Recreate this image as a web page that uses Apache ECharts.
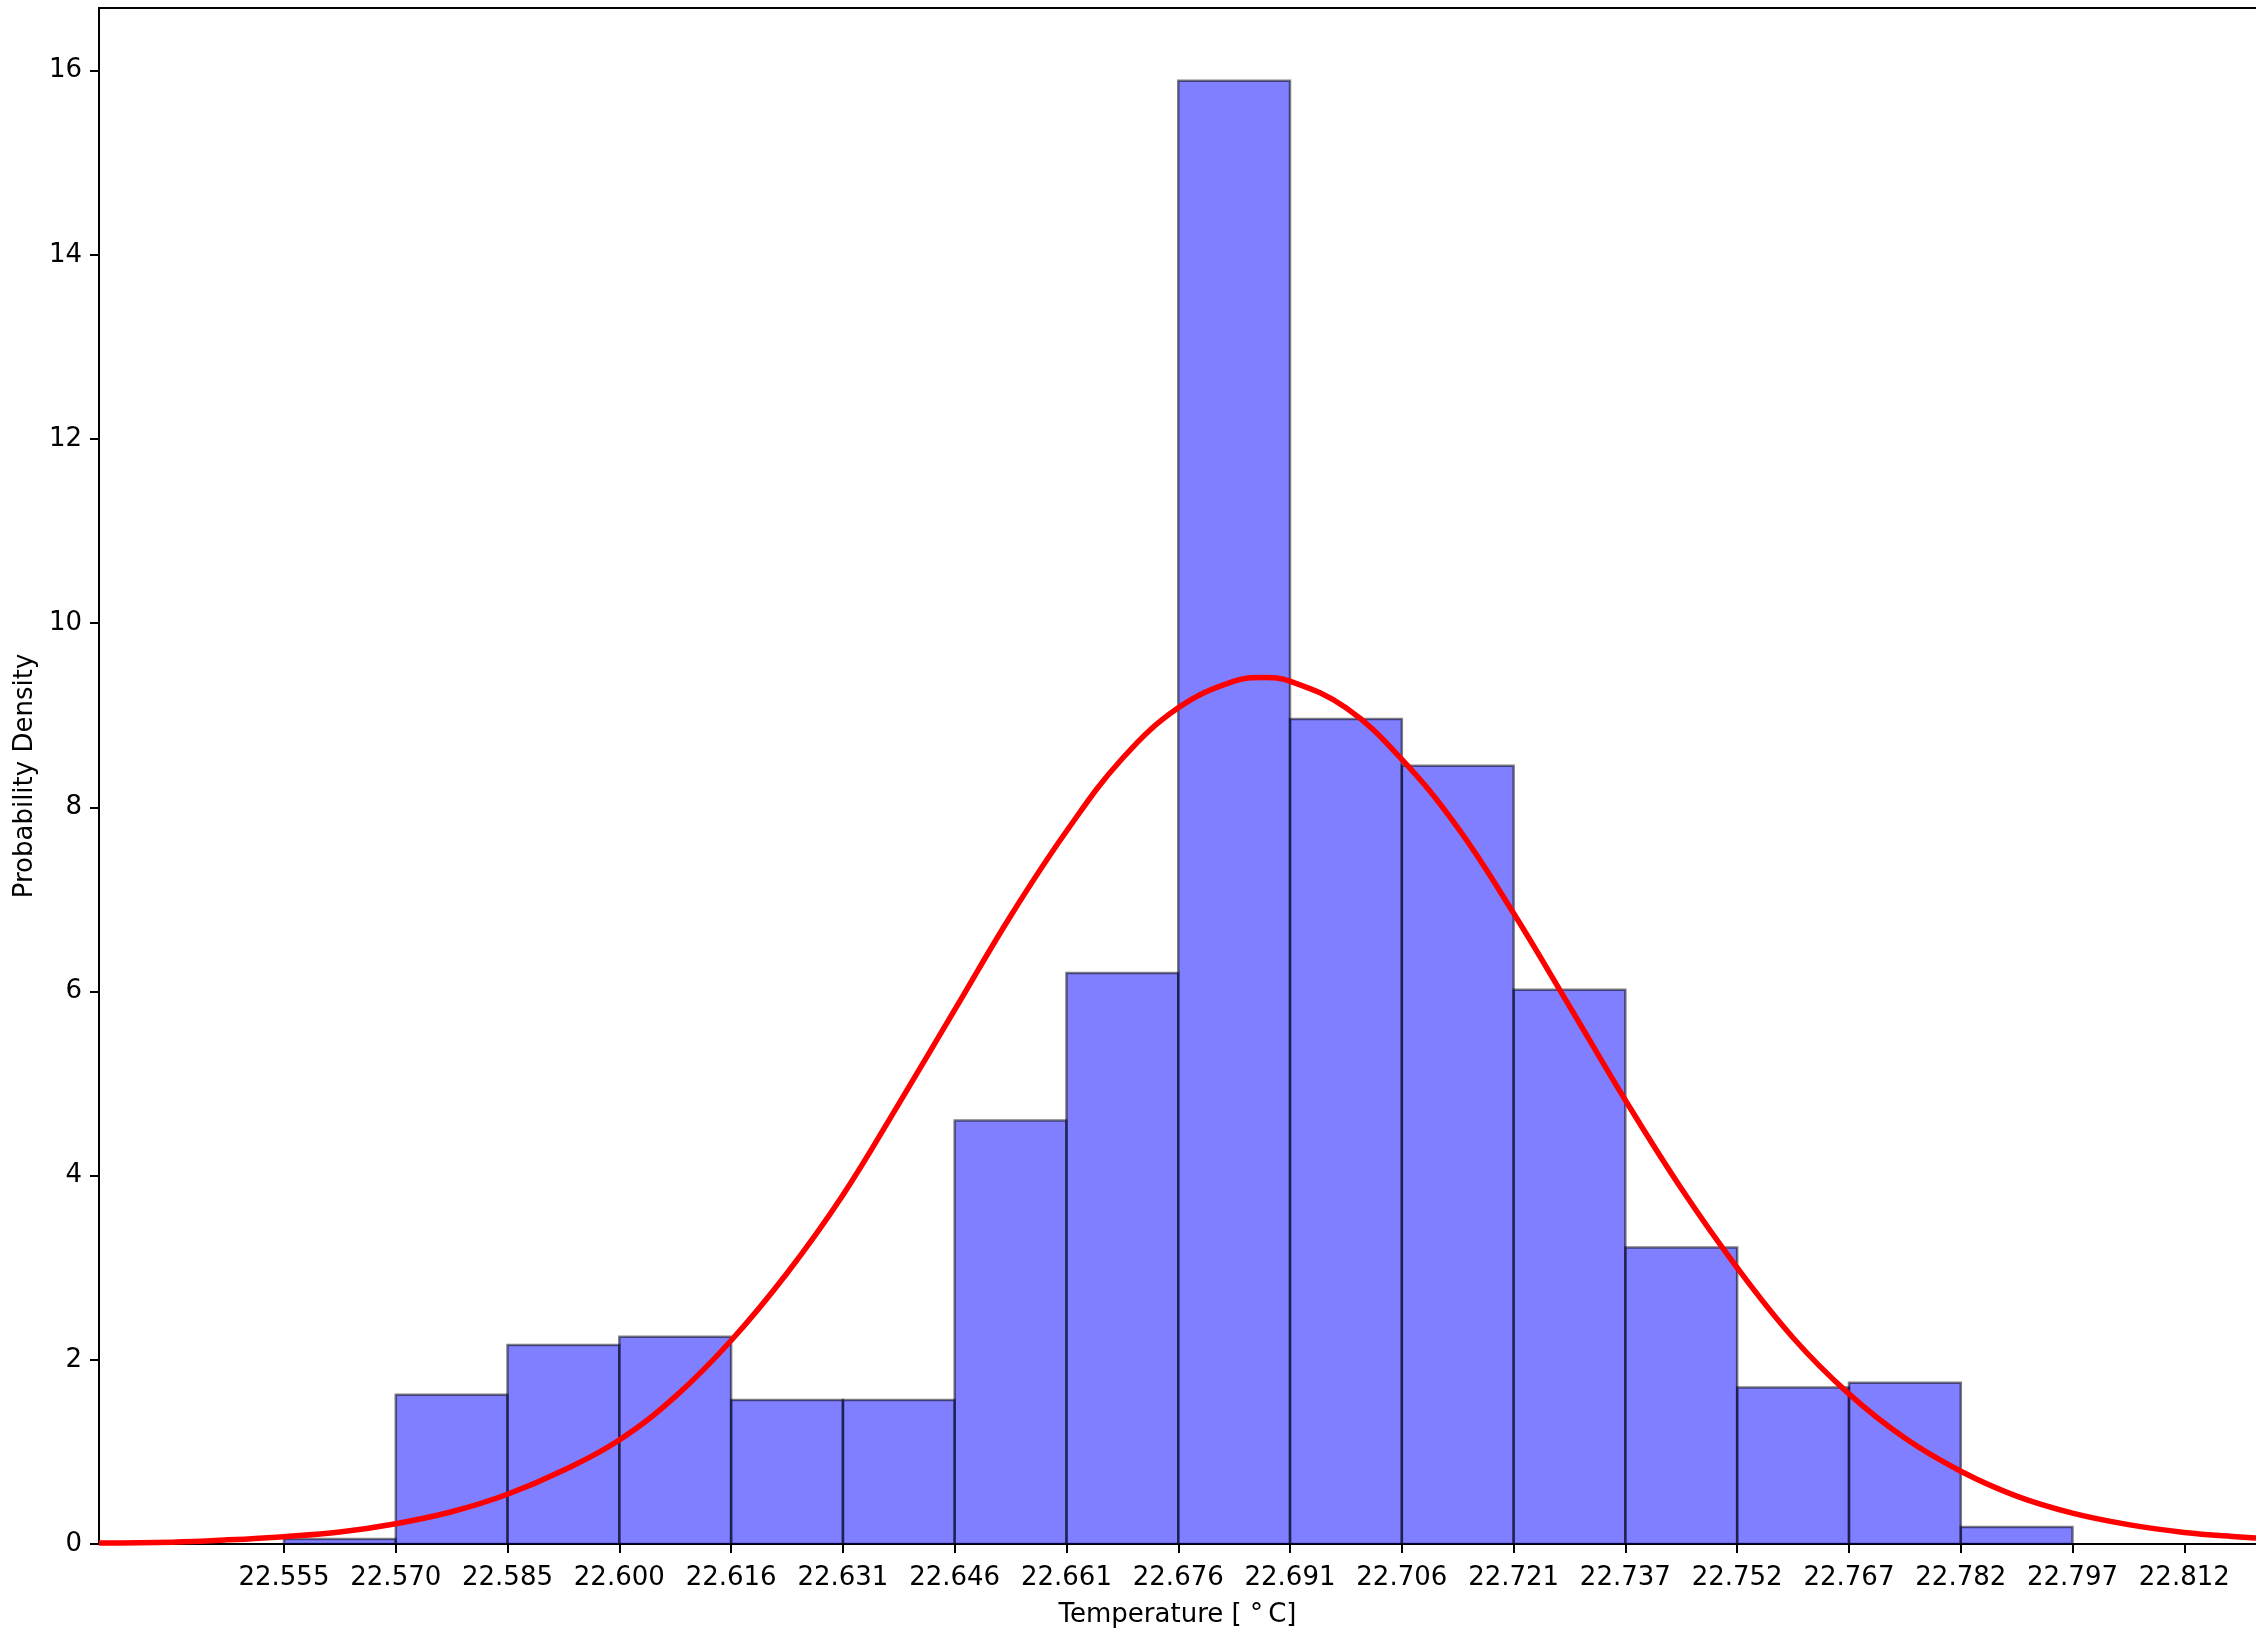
<!DOCTYPE html>
<html>
<head>
<meta charset="utf-8">
<script src="https://cdn.jsdelivr.net/npm/echarts@6/dist/echarts.min.js"></script>
<style>
  html, body { margin: 0; padding: 0; background: #ffffff; }
  #chart { width: 2256px; height: 1633px; }
</style>
</head>
<body>
<div id="chart"></div>
<script>
// Histogram bin edges (temperature, deg C)
const binEdges = [22.55505, 22.57018, 22.58530, 22.60043, 22.61556, 22.63069, 22.64581, 22.66094,
                  22.67607, 22.69119, 22.70632, 22.72145, 22.73657, 22.75170, 22.76683, 22.78196, 22.79708];
// Probability density of each bin
const densities = [0.054, 1.62, 2.16, 2.25, 1.565, 1.565, 4.60, 6.20, 15.89, 8.96, 8.45, 6.02, 3.22, 1.70, 1.75, 0.184];

// x tick positions and labels
const xTickValues = [22.55505, 22.57018, 22.58530, 22.60043, 22.61556, 22.63069, 22.64581, 22.66094, 22.67607,
                     22.69119, 22.70632, 22.72145, 22.73657, 22.75170, 22.76683, 22.78196, 22.79708, 22.81221];
const xTickLabels = ['22.555', '22.570', '22.585', '22.600', '22.616', '22.631', '22.646', '22.661', '22.676',
                     '22.691', '22.706', '22.721', '22.737', '22.752', '22.767', '22.782', '22.797', '22.812'];
const yTickValues = [0, 2, 4, 6, 8, 10, 12, 14, 16];

// Fitted density curve (bin edges, bin centres and the peak)
const curveT = [22.53002, 22.53992, 22.54748, 22.55505, 22.56261, 22.57018, 22.57774, 22.58530, 22.59287,
                22.60043, 22.60799, 22.61556, 22.62312, 22.63069, 22.63825, 22.64581, 22.65338, 22.66094,
                22.66850, 22.67607, 22.68363, 22.68750, 22.69119, 22.69876, 22.70632, 22.71388, 22.72145,
                22.72901, 22.73657, 22.74414, 22.75170, 22.75926, 22.76683, 22.77439, 22.78196, 22.78952,
                22.79708, 22.80465, 22.81221, 22.81977, 22.82191];
const curveDensity = [0.010, 0.020, 0.045, 0.08, 0.13, 0.22, 0.35, 0.54, 0.80,
                      1.13, 1.60, 2.21, 2.94, 3.79, 4.78, 5.80, 6.82, 7.74,
                      8.53, 9.08, 9.37, 9.41, 9.37, 9.08, 8.52, 7.78, 6.85,
                      5.84, 4.82, 3.86, 3.00, 2.24, 1.63, 1.15, 0.79, 0.52,
                      0.335, 0.21, 0.125, 0.075, 0.065];

const xMin = 22.53002, xMax = 22.82191, yMax = 16.68;

const barData = densities.map((d, i) => [binEdges[i], binEdges[i + 1], d]);
const lineData = curveT.map((t, i) => [t, curveDensity[i]]);

const font = '"DejaVu Sans", "Liberation Sans", sans-serif';
const chart = echarts.init(document.getElementById('chart'), null, { renderer: 'canvas' });

chart.setOption({
  animation: false,
  backgroundColor: '#ffffff',
  grid: { left: 99, top: 8, right: 0, bottom: 85, containLabel: false },
  xAxis: [{
    type: 'value', min: xMin, max: xMax, position: 'bottom',
    name: 'Temperature [ °\u2009C]', nameLocation: 'middle', nameGap: 58,
    nameTextStyle: { fontFamily: font, fontSize: 26, color: '#000' },
    axisLine: { show: true, onZero: false, lineStyle: { color: '#000', width: 2 } },
    axisTick: { show: true, inside: false, length: 9, lineStyle: { color: '#000', width: 2 }, customValues: xTickValues },
    axisLabel: {
      show: true, margin: 21, fontFamily: font, fontSize: 26, color: '#000', customValues: xTickValues,
      formatter: function (v) {
        let best = 0;
        for (let i = 1; i < xTickValues.length; i++) {
          if (Math.abs(xTickValues[i] - v) < Math.abs(xTickValues[best] - v)) best = i;
        }
        return xTickLabels[best];
      }
    },
    splitLine: { show: false }
  }, {
    type: 'value', min: xMin, max: xMax, position: 'top',
    axisLine: { show: true, onZero: false, lineStyle: { color: '#000', width: 2 } },
    axisTick: { show: false }, axisLabel: { show: false }, splitLine: { show: false }
  }],
  yAxis: {
    type: 'value', min: 0, max: yMax,
    name: 'Probability Density', nameLocation: 'middle', nameGap: 61, nameRotate: 90,
    nameTextStyle: { fontFamily: font, fontSize: 26, color: '#000' },
    axisLine: { show: true, onZero: false, lineStyle: { color: '#000', width: 2 } },
    axisTick: { show: true, inside: false, length: 9, lineStyle: { color: '#000', width: 2 }, customValues: yTickValues },
    axisLabel: { show: true, margin: 17, fontFamily: font, fontSize: 26, color: '#000', customValues: yTickValues },
    splitLine: { show: false }
  },
  series: [{
    type: 'custom',
    xAxisIndex: 0,
    clip: true,
    encode: { x: [0, 1], y: 2 },
    data: barData,
    z: 1,
    renderItem: function (params, api) {
      const p0 = api.coord([api.value(0), api.value(2)]);
      const p1 = api.coord([api.value(1), 0]);
      return {
        type: 'rect',
        shape: { x: p0[0], y: p0[1], width: p1[0] - p0[0], height: p1[1] - p0[1] },
        style: { fill: 'rgba(0,0,255,0.5)', stroke: 'rgba(0,0,0,0.5)', lineWidth: 2.5 }
      };
    }
  }, {
    type: 'line',
    xAxisIndex: 0,
    data: lineData,
    showSymbol: false,
    symbol: 'none',
    smooth: 0.4,
    clip: true,
    z: 3,
    lineStyle: { color: '#ff0000', width: 5.5 }
  }]
});
</script>
</body>
</html>
